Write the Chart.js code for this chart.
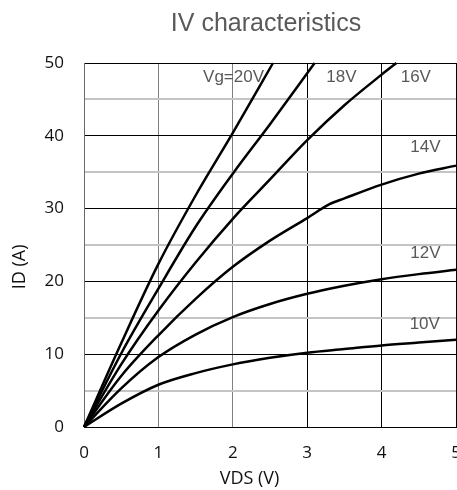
<!DOCTYPE html>
<html><head><meta charset="utf-8">
<style>html,body{margin:0;padding:0;background:#fff}</style>
<script src="https://cdn.jsdelivr.net/npm/chart.js@4/dist/chart.umd.min.js"></script>
</head><body>
<canvas id="c" width="457" height="490"></canvas>
<script>
// ---- data ----
const chartTitle = 'IV characteristics';
const xTitle = 'VDS (V)';
const yTitle = 'ID (A)';
const xTicks = [0, 1, 2, 3, 4, 5];
const yTicks = [0, 10, 20, 30, 40, 50];

const vds20 = [0, 0.5, 1, 1.5, 2, 2.54];
const id20  = [0, 11.5, 22.4, 31.8, 40.4, 50];
const vds18 = [0, 0.5, 1, 1.5, 2, 2.5, 3.1];
const id18  = [0, 10.1, 19.0, 27.5, 34.8, 41.6, 50];
const vds16 = [0, 0.5, 1, 1.5, 2, 2.5, 3, 3.5, 4, 4.2];
const id16  = [0, 8.6, 16.0, 22.6, 28.6, 34.0, 39.4, 44.2, 48.4, 50];
const vds14 = [0, 0.5, 1, 1.5, 2, 2.5, 3, 3.3, 3.5, 4, 4.5, 5];
const id14  = [0, 7.0, 12.6, 17.6, 22.0, 25.6, 28.7, 30.6, 31.4, 33.3, 34.8, 35.9];
const vds12 = [0, 0.5, 1, 1.5, 2, 2.5, 3, 3.5, 4, 4.5, 5];
const id12  = [0, 5.3, 9.6, 12.7, 15.1, 16.9, 18.3, 19.4, 20.3, 21.0, 21.6];
const vds10 = [0, 0.5, 1, 1.5, 2, 2.5, 3, 3.5, 4, 4.5, 5];
const id10  = [0, 3.2, 5.8, 7.4, 8.6, 9.5, 10.2, 10.7, 11.2, 11.6, 12.0];

const seriesNames = ['Vg=20V', '18V', '16V', '14V', '12V', '10V'];
const labelVds = [2.01, 3.46, 4.46, 4.59, 4.59, 4.58];
const labelId  = [48.1, 48.1, 48.1, 38.4, 23.8, 14.1];

// ---- build ----
const pairs = (xs, ys) => xs.map((x, i) => ({x: x, y: ys[i]}));
const allSeries = [[vds20,id20],[vds18,id18],[vds16,id16],[vds14,id14],[vds12,id12],[vds10,id10]];

const datasets = allSeries.map((s, i) => ({
  label: seriesNames[i],
  data: pairs(s[0], s[1]),
  borderColor: '#000',
  borderWidth: 2.5,
  pointRadius: 0,
  fill: false,
  cubicInterpolationMode: 'monotone',
  clip: 2
}));

const textPlugin = {
  id: 'texts',
  afterDatasetsDraw(chart) {
    const {ctx, chartArea, scales} = chart;
    ctx.save();
    // curve labels
    ctx.font = '17px "Liberation Sans", Arial, sans-serif';
    ctx.fillStyle = '#595959';
    ctx.textAlign = 'center';
    ctx.textBaseline = 'middle';
    seriesNames.forEach((n, i) => {
      ctx.fillText(n, scales.x.getPixelForValue(labelVds[i]), scales.y.getPixelForValue(labelId[i]));
    });
    // chart title
    ctx.font = '25px "Liberation Sans", Arial, sans-serif';
    ctx.fillText(chartTitle, (chartArea.left + chartArea.right) / 2 - 4, 24);
    // axis titles
    ctx.font = '18px "Open Sans", sans-serif';
    ctx.fillStyle = '#111';
    ctx.fillText(xTitle, chartArea.left + (chartArea.right - chartArea.left) * 0.445, 479);
    ctx.translate(20, chartArea.top + (chartArea.bottom - chartArea.top) * 0.56);
    ctx.rotate(-Math.PI / 2);
    ctx.fillText(yTitle, 0, 0);
    ctx.restore();
  }
};

new Chart(document.getElementById('c'), {
  type: 'line',
  data: {datasets},
  plugins: [textPlugin],
  options: {
    responsive: false,
    animation: false,
    layout: {padding: {top: 63, right: 1, left: 0, bottom: 0}},
    plugins: {legend: {display: false}, title: {display: false}, tooltip: {enabled: false}},
    scales: {
      x: {
        type: 'linear', min: xTicks[0], max: xTicks[xTicks.length - 1],
        ticks: {stepSize: 1, padding: 16, color: '#111', maxRotation: 0, font: {family: '"Open Sans", sans-serif', size: 17}},
        grid: {drawTicks: false, lineWidth: 1, color: c => (c.tick && (c.tick.value === 1 || c.tick.value === 2)) ? '#808080' : '#000'},
        border: {color: '#000', width: 1},
        afterFit(s) { s.height = 63; s.paddingLeft = 0; s.paddingRight = 0; }
      },
      y: {
        type: 'linear', min: yTicks[0], max: yTicks[yTicks.length - 1],
        ticks: {stepSize: 5, padding: 20, color: '#111', font: {family: '"Open Sans", sans-serif', size: 17},
          callback: v => yTicks.includes(v) ? String(v) : ''},
        grid: {drawTicks: false,
          lineWidth: c => (c.tick && c.tick.value % 10 === 0) ? 1 : 2,
          color: c => (c.tick && c.tick.value % 10 === 0) ? '#000' : '#c4c4c4'},
        border: {color: '#6a6a6a', width: 1},
        afterFit(s) { s.width = 84; s.paddingTop = 0; s.paddingBottom = 0; }
      }
    }
  }
});
</script>
</body></html>
